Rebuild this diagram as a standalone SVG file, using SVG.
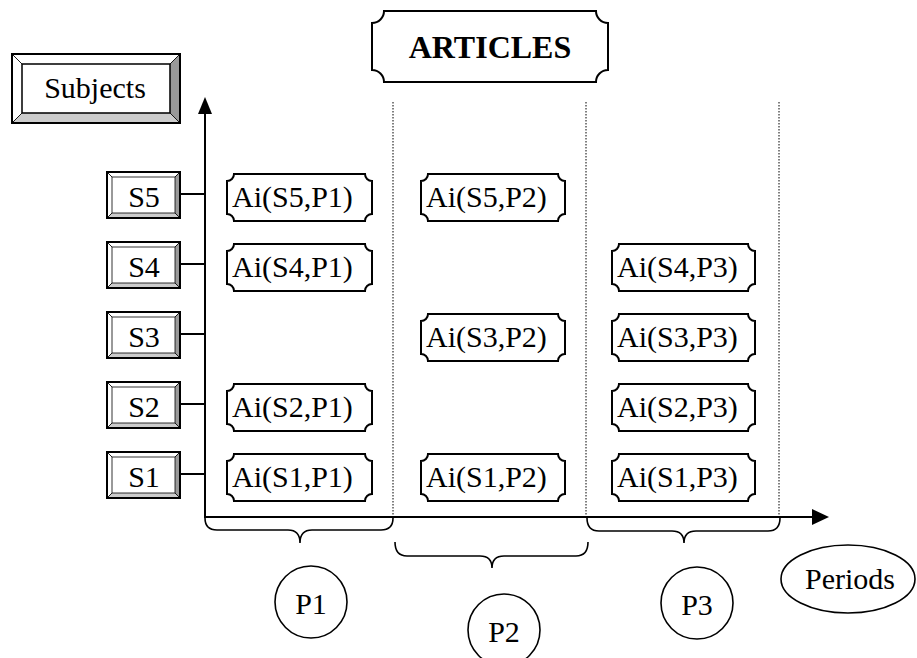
<svg xmlns="http://www.w3.org/2000/svg" width="917" height="658" viewBox="0 0 917 658">
<defs>
<style>
text{font-family:"Liberation Serif","Times New Roman",serif;fill:#000}
.t{font-size:30px}
.c{text-anchor:middle}
.ol{fill:none;stroke:#000;stroke-width:2}
.inner{fill:#fff;stroke:#000;stroke-width:1.2}
.lt{fill:#fff;stroke:#000;stroke-width:0.8}
.dk{fill:#999;stroke:#000;stroke-width:0.8}
.md{fill:#ccc;stroke:#000;stroke-width:0.8}
.pl{fill:#fff;stroke:#000;stroke-width:2}
.ax{stroke:#000;stroke-width:2;fill:none}
.dot{stroke:#000;stroke-width:1;stroke-dasharray:1.5 1.5;fill:none}
.br{stroke:#000;stroke-width:1.6;fill:none}
.ci{fill:#fff;stroke:#000;stroke-width:1.6}
</style>
</defs>
<rect width="917" height="658" fill="#fff"/>

<g id="connectors">
<line class="dot" x1="393" y1="102" x2="393" y2="518"/>
<line class="dot" x1="586" y1="102" x2="586" y2="518"/>
<line class="dot" x1="779" y1="102" x2="779" y2="518"/>
<line class="ax" x1="205" y1="112" x2="205" y2="517"/>
<polygon points="205,97 198,114 212,114" fill="#000"/>
<line class="ax" x1="204" y1="517" x2="815" y2="517"/>
<polygon points="829,517 812,509 812,525" fill="#000"/>
<line class="ax" x1="180" y1="194" x2="205" y2="194"/>
<line class="ax" x1="180" y1="264" x2="205" y2="264"/>
<line class="ax" x1="180" y1="334" x2="205" y2="334"/>
<line class="ax" x1="180" y1="404" x2="205" y2="404"/>
<line class="ax" x1="180" y1="474" x2="205" y2="474"/>
<path class="br" d="M205,518 Q205,530 217,530 L288,530 Q300,530 300,543 Q300,530 312,530 L381,530 Q393,530 393,518"/>
<path class="br" d="M395,542 Q395,556 407,556 L480,556 Q492,556 492,568 Q492,556 504,556 L576,556 Q588,556 588,542"/>
<path class="br" d="M587,518 Q587,531 599,531 L672,531 Q684,531 684,543 Q684,531 696,531 L768,531 Q780,531 780,518"/>
</g>

<g id="articles">
<path class="pl" d="M384,11 L596,11 A12 12 0 0 0 608,23 L608,70 A12 12 0 0 0 596,82 L384,82 A12 12 0 0 0 372,70 L372,23 A12 12 0 0 0 384,11 Z"/>
<text x="490" y="58" class="c" font-size="32" font-weight="bold">ARTICLES</text>
</g>

<g id="subjects">
<rect x="12" y="54" width="168" height="69" class="inner"/>
<polygon class="lt" points="12,54 180,54 170,64 22,64"/>
<polygon class="lt" points="12,54 22,64 22,113 12,123"/>
<polygon class="dk" points="180,54 180,123 170,113 170,64"/>
<polygon class="md" points="12,123 22,113 170,113 180,123"/>
<rect x="22" y="64" width="148" height="49" fill="none" stroke="#000" stroke-width="1.2"/>
<rect x="12" y="54" width="168" height="69" class="ol"/>
<text x="95" y="98" class="t c">Subjects</text>
</g>

<g id="s5">
<rect x="107" y="172" width="73" height="46" class="inner"/>
<polygon class="lt" points="107,172 180,172 175,177 112,177"/>
<polygon class="lt" points="107,172 112,177 112,213 107,218"/>
<polygon class="dk" points="180,172 180,218 175,213 175,177"/>
<polygon class="md" points="107,218 112,213 175,213 180,218"/>
<rect x="107" y="172" width="73" height="46" class="ol"/>
<text x="144" y="207" class="t c">S5</text>
</g>
<g id="s4">
<rect x="107" y="242" width="73" height="46" class="inner"/>
<polygon class="lt" points="107,242 180,242 175,247 112,247"/>
<polygon class="lt" points="107,242 112,247 112,283 107,288"/>
<polygon class="dk" points="180,242 180,288 175,283 175,247"/>
<polygon class="md" points="107,288 112,283 175,283 180,288"/>
<rect x="107" y="242" width="73" height="46" class="ol"/>
<text x="144" y="277" class="t c">S4</text>
</g>
<g id="s3">
<rect x="107" y="312" width="73" height="46" class="inner"/>
<polygon class="lt" points="107,312 180,312 175,317 112,317"/>
<polygon class="lt" points="107,312 112,317 112,353 107,358"/>
<polygon class="dk" points="180,312 180,358 175,353 175,317"/>
<polygon class="md" points="107,358 112,353 175,353 180,358"/>
<rect x="107" y="312" width="73" height="46" class="ol"/>
<text x="144" y="347" class="t c">S3</text>
</g>
<g id="s2">
<rect x="107" y="382" width="73" height="46" class="inner"/>
<polygon class="lt" points="107,382 180,382 175,387 112,387"/>
<polygon class="lt" points="107,382 112,387 112,423 107,428"/>
<polygon class="dk" points="180,382 180,428 175,423 175,387"/>
<polygon class="md" points="107,428 112,423 175,423 180,428"/>
<rect x="107" y="382" width="73" height="46" class="ol"/>
<text x="144" y="417" class="t c">S2</text>
</g>
<g id="s1">
<rect x="107" y="452" width="73" height="46" class="inner"/>
<polygon class="lt" points="107,452 180,452 175,457 112,457"/>
<polygon class="lt" points="107,452 112,457 112,493 107,498"/>
<polygon class="dk" points="180,452 180,498 175,493 175,457"/>
<polygon class="md" points="107,498 112,493 175,493 180,498"/>
<rect x="107" y="452" width="73" height="46" class="ol"/>
<text x="144" y="487" class="t c">S1</text>
</g>

<g id="a-s5-p1"><path class="pl" d="M234,174 L365,174 A7 7 0 0 0 372,181 L372,214 A7 7 0 0 0 365,221 L234,221 A7 7 0 0 0 227,214 L227,181 A7 7 0 0 0 234,174 Z"/><text x="232" y="207" class="t">Ai(S5,P1)</text></g>
<g id="a-s5-p2"><path class="pl" d="M428,174 L558,174 A7 7 0 0 0 565,181 L565,214 A7 7 0 0 0 558,221 L428,221 A7 7 0 0 0 421,214 L421,181 A7 7 0 0 0 428,174 Z"/><text x="426" y="207" class="t">Ai(S5,P2)</text></g>
<g id="a-s4-p1"><path class="pl" d="M234,244 L365,244 A7 7 0 0 0 372,251 L372,284 A7 7 0 0 0 365,291 L234,291 A7 7 0 0 0 227,284 L227,251 A7 7 0 0 0 234,244 Z"/><text x="232" y="277" class="t">Ai(S4,P1)</text></g>
<g id="a-s4-p3"><path class="pl" d="M619,244 L748,244 A7 7 0 0 0 755,251 L755,284 A7 7 0 0 0 748,291 L619,291 A7 7 0 0 0 612,284 L612,251 A7 7 0 0 0 619,244 Z"/><text x="617" y="277" class="t">Ai(S4,P3)</text></g>
<g id="a-s3-p2"><path class="pl" d="M428,314 L558,314 A7 7 0 0 0 565,321 L565,354 A7 7 0 0 0 558,361 L428,361 A7 7 0 0 0 421,354 L421,321 A7 7 0 0 0 428,314 Z"/><text x="426" y="347" class="t">Ai(S3,P2)</text></g>
<g id="a-s3-p3"><path class="pl" d="M619,314 L748,314 A7 7 0 0 0 755,321 L755,354 A7 7 0 0 0 748,361 L619,361 A7 7 0 0 0 612,354 L612,321 A7 7 0 0 0 619,314 Z"/><text x="617" y="347" class="t">Ai(S3,P3)</text></g>
<g id="a-s2-p1"><path class="pl" d="M234,384 L365,384 A7 7 0 0 0 372,391 L372,424 A7 7 0 0 0 365,431 L234,431 A7 7 0 0 0 227,424 L227,391 A7 7 0 0 0 234,384 Z"/><text x="232" y="417" class="t">Ai(S2,P1)</text></g>
<g id="a-s2-p3"><path class="pl" d="M619,384 L748,384 A7 7 0 0 0 755,391 L755,424 A7 7 0 0 0 748,431 L619,431 A7 7 0 0 0 612,424 L612,391 A7 7 0 0 0 619,384 Z"/><text x="617" y="417" class="t">Ai(S2,P3)</text></g>
<g id="a-s1-p1"><path class="pl" d="M234,454 L365,454 A7 7 0 0 0 372,461 L372,494 A7 7 0 0 0 365,501 L234,501 A7 7 0 0 0 227,494 L227,461 A7 7 0 0 0 234,454 Z"/><text x="232" y="487" class="t">Ai(S1,P1)</text></g>
<g id="a-s1-p2"><path class="pl" d="M428,454 L558,454 A7 7 0 0 0 565,461 L565,494 A7 7 0 0 0 558,501 L428,501 A7 7 0 0 0 421,494 L421,461 A7 7 0 0 0 428,454 Z"/><text x="426" y="487" class="t">Ai(S1,P2)</text></g>
<g id="a-s1-p3"><path class="pl" d="M619,454 L748,454 A7 7 0 0 0 755,461 L755,494 A7 7 0 0 0 748,501 L619,501 A7 7 0 0 0 612,494 L612,461 A7 7 0 0 0 619,454 Z"/><text x="617" y="487" class="t">Ai(S1,P3)</text></g>

<g id="p1"><circle cx="311" cy="602" r="36" class="ci"/><text x="311" y="614" class="t c">P1</text></g>
<g id="p2"><circle cx="504" cy="630" r="36" class="ci"/><text x="504" y="642" class="t c">P2</text></g>
<g id="p3"><circle cx="697" cy="603" r="36" class="ci"/><text x="697" y="615" class="t c">P3</text></g>
<g id="periods"><ellipse cx="848" cy="579" rx="67" ry="34" class="ci"/><text x="850" y="589" class="t c">Periods</text></g>
</svg>
